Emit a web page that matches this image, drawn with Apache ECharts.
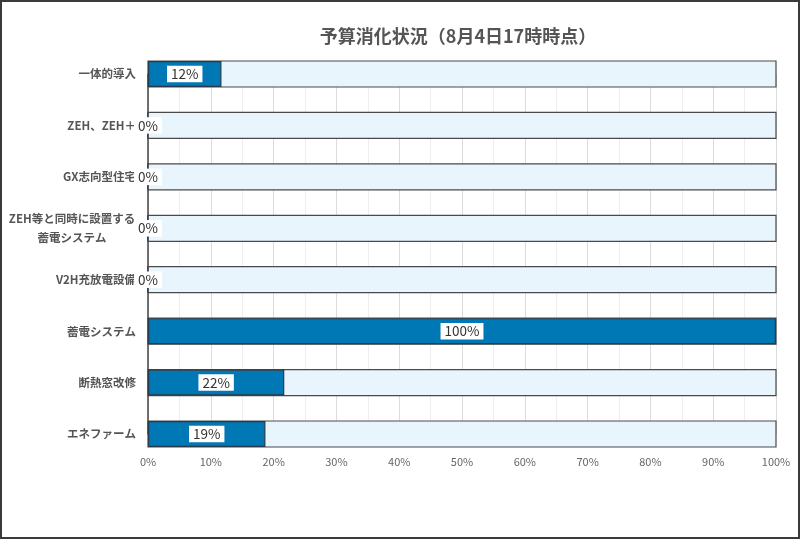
<!DOCTYPE html>
<html>
<head>
<meta charset="utf-8">
<script src="https://cdn.jsdelivr.net/npm/echarts@6/dist/echarts.min.js"></script>
<style>
html,body{margin:0;padding:0;background:#fff;}
#c{width:800px;height:539px;box-sizing:border-box;border:2px solid #3a3a3a;}
</style>
</head>
<body>
<div id="c"></div>
<script>
var titleText = '予算消化状況（8月4日17時時点）';
var categories = ['一体的導入', 'ZEH、ZEH＋', 'GX志向型住宅', 'ZEH等と同時に設置する\n蓄電システム', 'V2H充放電設備', '蓄電システム', '断熱窓改修', 'エネファーム'];
var values = [11.7, 0, 0, 0, 0, 100, 21.7, 18.7];
var xTicks = [0, 10, 20, 30, 40, 50, 60, 70, 80, 90, 100];

var FONT = '"Noto Sans CJK JP", "Noto Sans", sans-serif';
var chart = echarts.init(document.getElementById('c'));
chart.setOption({
  animation: false,
  title: {
    text: titleText,
    left: 451,
    top: 20,
    textAlign: 'center',
    textStyle: {fontFamily: FONT, fontSize: 18, fontWeight: 'bold', color: '#555'}
  },
  grid: {left: 146, right: 22, top: 72, bottom: 103, containLabel: false},
  xAxis: {
    type: 'value',
    min: xTicks[0],
    max: xTicks[xTicks.length - 1],
    interval: 10,
    axisLine: {show: false},
    axisTick: {show: false},
    axisLabel: {
      formatter: '{value}%',
      margin: 22,
      fontFamily: FONT,
      fontSize: 11,
      color: '#666'
    },
    splitLine: {show: true, lineStyle: {color: '#dcdcdc', width: 1}},
    minorTick: {show: false, splitNumber: 2},
    minorSplitLine: {show: true, lineStyle: {color: '#eeeeee', width: 1}}
  },
  yAxis: {
    type: 'category',
    data: categories,
    inverse: true,
    boundaryGap: false,
    axisLine: {show: true, lineStyle: {color: '#444', width: 1.5}},
    axisTick: {show: false},
    splitLine: {show: false},
    axisLabel: {
      margin: 12,
      fontFamily: FONT,
      fontSize: 11.5,
      fontWeight: 'bold',
      color: '#555',
      lineHeight: 19,
      formatter: function (v) {
        if (v.indexOf('\n') >= 0) {
          var parts = v.split('\n');
          return parts.map(function (p) { return '{c|' + p + '}'; }).join('\n');
        }
        return v;
      },
      rich: {
        c: {width: 128, align: 'center', fontFamily: FONT, fontSize: 11.5, fontWeight: 'bold', color: '#555', lineHeight: 19}
      }
    }
  },
  series: [{
    type: 'bar',
    data: values,
    barWidth: 26,
    clip: false,
    showBackground: true,
    backgroundStyle: {color: '#e8f5fd', borderColor: '#4a4a4a', borderWidth: 1.2},
    itemStyle: {color: '#0078b5', borderColor: '#2a3a48', borderWidth: 1.2},
    label: {
      show: true,
      position: 'inside',
      formatter: function (p) { return Math.round(p.value) + '%'; },
      fontFamily: FONT,
      fontSize: 13.5,
      color: '#333',
      backgroundColor: '#fff',
      padding: [2, 4, 1, 4]
    }
  }]
});
</script>
</body>
</html>
